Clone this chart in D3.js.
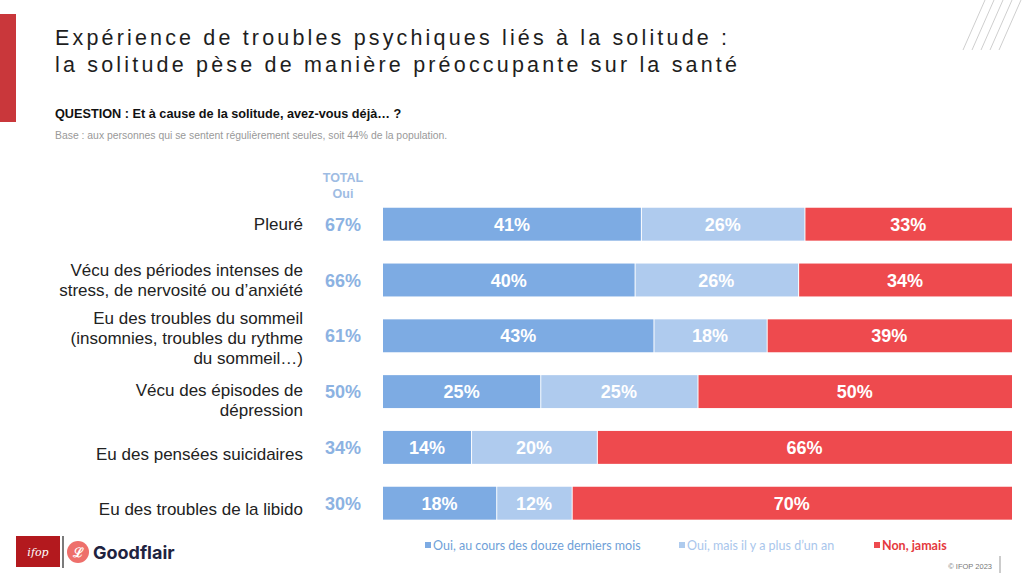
<!DOCTYPE html>
<html><head><meta charset="utf-8">
<script src="https://cdn.jsdelivr.net/npm/d3@7"></script>
<style>
html,body{margin:0;padding:0;background:#fff;}
svg{display:block;font-family:"Liberation Sans",Arial,sans-serif;}
</style></head>
<body><svg id="c" width="1024" height="575"></svg>
<script>
const categories = [
  ["Pleuré"],
  ["Vécu des périodes intenses de", "stress, de nervosité ou d’anxiété"],
  ["Eu des troubles du sommeil", "(insomnies, troubles du rythme", "du sommeil…)"],
  ["Vécu des épisodes de", "dépression"],
  ["Eu des pensées suicidaires"],
  ["Eu des troubles de la libido"]
];
const seriesNames = ["Oui, au cours des douze derniers mois", "Oui, mais il y a plus d’un an", "Non, jamais"];
const recent = [41, 40, 43, 25, 14, 18];
const older  = [26, 26, 18, 25, 20, 12];
const never  = [33, 34, 39, 50, 66, 70];
const totalOui = [67, 66, 61, 50, 34, 30];
const colors = ["#7DABE3", "#AFCBEE", "#EE4A4E"];
const legendText = ["#6F9FD8", "#A9C6EC", "#E5383D"];

// layout constants (not data)
const labelShift = [0, 0, 2, 8, 7, 6];
const legX = [425, 679, 874];

const svg = d3.select("#c");
const ids = categories.map((c, i) => i);
const y = d3.scaleBand().domain(ids).range([196.3, 531.1]).paddingInner(0.41).paddingOuter(0.205);
const x = d3.scaleLinear().domain([0, 100]).range([383, 1012]);

// decorative red bar
svg.append("rect").attr("x", 0).attr("y", 14).attr("width", 16).attr("height", 108).attr("fill", "#C9373B");

// diagonal lines top right
const diag = [0,1,2,3,4];
svg.selectAll("line.diag").data(diag).enter().append("line")
  .attr("x1", d => 963 + d * 9).attr("y1", 50)
  .attr("x2", d => 985 + d * 9).attr("y2", 0)
  .attr("stroke", "#cfcfcf").attr("stroke-width", 1);

// title
const titleLines = ["Expérience de troubles psychiques liés à la solitude :", "la solitude pèse de manière préoccupante sur la santé"];
const titleLens = [672, 682];
svg.selectAll("text.title").data(titleLines).enter().append("text")
  .attr("x", 55).attr("y", (d, i) => 45 + i * 27)
  .attr("font-size", 21.5).attr("fill", "#1e1e1e")
  .attr("textLength", (d, i) => titleLens[i]).attr("lengthAdjust", "spacing")
  .text(d => d);

svg.append("text").attr("x", 55).attr("y", 118).attr("font-size", 12.7).attr("font-weight", "bold").attr("fill", "#111")
  .text("QUESTION : Et à cause de la solitude, avez-vous déjà… ?");
svg.append("text").attr("x", 55).attr("y", 139).attr("font-size", 10.4).attr("fill", "#999")
  .text("Base : aux personnes qui se sentent régulièrement seules, soit 44% de la population.");

// TOTAL header
svg.append("text").attr("x", 343).attr("y", 182).attr("text-anchor", "middle").attr("font-size", 12.5).attr("font-weight", "bold").attr("fill", "#9EBCE3").text("TOTAL");
svg.append("text").attr("x", 343).attr("y", 198).attr("text-anchor", "middle").attr("font-size", 12.5).attr("font-weight", "bold").attr("fill", "#9EBCE3").text("Oui");

// category labels
const lh = 20;
const catG = svg.selectAll("text.cat").data(categories).enter().append("text")
  .attr("text-anchor", "end").attr("font-size", 17).attr("fill", "#222");
catG.each(function(lines, i) {
  const cy = y(i) + y.bandwidth() / 2 + labelShift[i];
  const start = cy - (lines.length - 1) * lh / 2 + 6;
  d3.select(this).selectAll("tspan").data(lines).enter().append("tspan")
    .attr("x", 303).attr("y", (d, j) => start + j * lh).text(d => d);
});

// totals
svg.selectAll("text.tot").data(totalOui).enter().append("text")
  .attr("x", 343).attr("y", (d, i) => y(i) + y.bandwidth() / 2 + 6.5)
  .attr("text-anchor", "middle").attr("font-size", 18).attr("font-weight", "bold").attr("fill", "#8CB2E2")
  .text(d => d + "%");

// stacked bars
const rows = ids.map(i => ({ i, vals: [recent[i], older[i], never[i]] }));
const segs = [];
rows.forEach(r => { let acc = 0; r.vals.forEach((v, k) => { segs.push({ i: r.i, k, v, x0: acc, x1: acc + v }); acc += v; }); });
svg.selectAll("rect.seg").data(segs).enter().append("rect")
  .attr("x", d => x(d.x0) + (d.k > 0 ? 1 : 0))
  .attr("y", d => y(d.i))
  .attr("width", d => x(d.x1) - x(d.x0) - (d.k > 0 ? 1 : 0))
  .attr("height", y.bandwidth())
  .attr("fill", d => colors[d.k]);
svg.selectAll("text.seg").data(segs).enter().append("text")
  .attr("x", d => (x(d.x0) + x(d.x1)) / 2)
  .attr("y", d => y(d.i) + y.bandwidth() / 2 + 6.5)
  .attr("text-anchor", "middle").attr("font-size", 18).attr("font-weight", "bold").attr("fill", "#fff")
  .text(d => d.v + "%");

// legend
const lg = svg.selectAll("g.leg").data(seriesNames).enter().append("g")
  .attr("transform", (d, i) => `translate(${legX[i]},546)`);
lg.append("rect").attr("x", 0).attr("y", -4).attr("width", 6).attr("height", 6).attr("fill", (d, i) => colors[i]);
lg.append("text").attr("x", 8).attr("y", 0).attr("dy", "0.35em").attr("font-size", 12.5)
  .attr("font-family", "Lato, 'Open Sans', sans-serif").attr("font-weight", (d, i) => i === 2 ? "bold" : "normal")
  .attr("fill", (d, i) => legendText[i]).text(d => d);

// copyright
svg.append("text").attr("x", 992).attr("y", 569).attr("text-anchor", "end").attr("font-size", 7.5).attr("fill", "#777").text("© IFOP 2023");
svg.append("line").attr("x1", 1000).attr("x2", 1000).attr("y1", 556).attr("y2", 573).attr("stroke", "#999").attr("stroke-width", 1);

// logos
svg.append("rect").attr("x", 16).attr("y", 536).attr("width", 44).attr("height", 31).attr("fill", "#B3191E");
svg.append("text").attr("x", 38).attr("y", 556).attr("text-anchor", "middle").attr("font-size", 11).attr("font-style", "italic").attr("fill", "#fff").attr("font-family", "'DejaVu Serif', serif").text("ifop");
svg.append("line").attr("x1", 63).attr("x2", 63).attr("y1", 536).attr("y2", 568).attr("stroke", "#222").attr("stroke-width", 1.2);
svg.append("circle").attr("cx", 78).attr("cy", 552).attr("r", 11).attr("fill", "#EE6F6B");
svg.append("text").attr("x", 78).attr("y", 557).attr("text-anchor", "middle").attr("font-size", 13).attr("font-weight", "bold").attr("fill", "#fff").text("ℒ");
svg.append("text").attr("x", 93).attr("y", 559).attr("font-size", 18).attr("font-weight", "bold").attr("fill", "#1F2340").attr("font-family", "Inter, 'Noto Sans', sans-serif").text("Goodflair");
</script></body></html>
